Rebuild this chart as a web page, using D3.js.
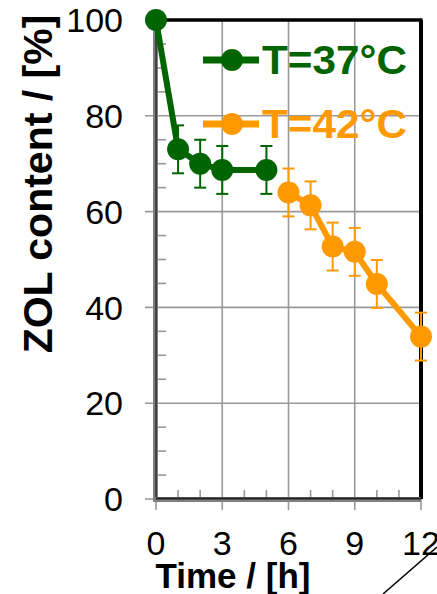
<!DOCTYPE html>
<html><head><meta charset="utf-8">
<script src="https://cdn.jsdelivr.net/npm/d3@7"></script>
<style>body{margin:0;background:#fff}svg{display:block}</style>
</head><body>
<svg id="c" width="437" height="594"></svg>
<script>
// Data
const t37 = [0, 1, 2, 3, 5];
const v37 = [100, 73, 70, 68.7, 68.7];
const e37 = [0, 5, 5, 5, 5];
const t42 = [6, 7, 8, 9, 10, 12];
const v42 = [64, 61.3, 52.7, 51.6, 44.9, 33.9];
const e42 = [5, 5, 5, 5, 5, 5];
const xTicks = [0, 3, 6, 9, 12];
const yTicks = [0, 20, 40, 60, 80, 100];
const seriesNames = ["T=37°C", "T=42°C"];

const green = "#006400", orange = "#ff9900", grid = "#999999";
const svg = d3.select("#c");
const x = d3.scaleLinear().domain([0, 12]).range([156, 421]);
const y = d3.scaleLinear().domain([0, 100]).range([499, 20]);

// grid lines (with outward major ticks)
svg.append("g").selectAll("line").data(yTicks.filter(d => d > 0 && d < 100)).join("line")
  .attr("x1", 145).attr("x2", x(12)).attr("y1", d => y(d)).attr("y2", d => y(d))
  .attr("stroke", grid).attr("stroke-width", 1.6);
svg.append("g").selectAll("line").data(xTicks.filter(d => d > 0 && d < 12)).join("line")
  .attr("x1", d => x(d)).attr("x2", d => x(d)).attr("y1", y(100)).attr("y2", 510)
  .attr("stroke", grid).attr("stroke-width", 1.6);
// major ticks at ends
svg.append("line").attr("x1", 145).attr("x2", 156).attr("y1", y(0)).attr("y2", y(0)).attr("stroke", grid).attr("stroke-width", 1.6);
svg.append("line").attr("x1", x(0)).attr("x2", x(0)).attr("y1", 499).attr("y2", 510).attr("stroke", grid).attr("stroke-width", 1.6);
svg.append("line").attr("x1", x(12)).attr("x2", x(12)).attr("y1", 499).attr("y2", 510).attr("stroke", grid).attr("stroke-width", 1.6);

// minor ticks
const yMinor = d3.range(5, 100, 5).filter(d => d % 20 !== 0);
svg.append("g").selectAll("line").data(yMinor).join("line")
  .attr("x1", 156).attr("x2", 166).attr("y1", d => y(d)).attr("y2", d => y(d))
  .attr("stroke", grid).attr("stroke-width", 1.6);
const xMinor = d3.range(1, 12, 1).filter(d => d % 3 !== 0);
svg.append("g").selectAll("line").data(xMinor).join("line")
  .attr("x1", d => x(d)).attr("x2", d => x(d)).attr("y1", 499).attr("y2", 490)
  .attr("stroke", grid).attr("stroke-width", 1.6);

// frame: top and right black
svg.append("line").attr("x1", x(0)).attr("x2", x(12) + 1.5).attr("y1", y(100)).attr("y2", y(100)).attr("stroke", "#000").attr("stroke-width", 3.5);
svg.append("line").attr("x1", x(12)).attr("x2", x(12)).attr("y1", y(100)).attr("y2", y(0)).attr("stroke", "#000").attr("stroke-width", 4);
// left axis & bottom axis (gray with dark center)
svg.append("line").attr("x1", 155.5).attr("x2", 155.5).attr("y1", y(100)).attr("y2", 501).attr("stroke", "#808080").attr("stroke-width", 5);
svg.append("line").attr("x1", 156).attr("x2", 156).attr("y1", y(100)).attr("y2", 499).attr("stroke", "#333").attr("stroke-width", 1.6);
svg.append("line").attr("x1", 153).attr("x2", x(12)).attr("y1", 499.5).attr("y2", 499.5).attr("stroke", "#808080").attr("stroke-width", 5);
svg.append("line").attr("x1", 156).attr("x2", x(12)).attr("y1", 498.5).attr("y2", 498.5).attr("stroke", "#222").attr("stroke-width", 2);

// tick labels
svg.append("g").selectAll("text").data(yTicks).join("text")
  .attr("x", 123).attr("y", d => y(d)).attr("dy", "0.36em").attr("text-anchor", "end")
  .attr("font-family", "Liberation Sans, Arial, sans-serif").attr("font-size", 34).text(d => d);
svg.append("g").selectAll("text").data(xTicks).join("text")
  .attr("x", d => x(d)).attr("y", 555).attr("text-anchor", "middle")
  .attr("font-family", "Liberation Sans, Arial, sans-serif").attr("font-size", 34).text(d => d);

// axis titles
svg.append("text").attr("x", 233).attr("y", 588).attr("text-anchor", "middle")
  .attr("font-family", "Liberation Sans, Arial, sans-serif").attr("font-weight", "bold").attr("font-size", 35)
  .text("Time / [h]");
svg.append("text").attr("transform", "translate(52,184) rotate(-90)").attr("text-anchor", "middle")
  .attr("font-family", "Liberation Sans, Arial, sans-serif").attr("font-weight", "bold").attr("font-size", 41)
  .text("ZOL content / [%]");

// series
function drawSeries(ts, vs, es, color) {
  const pts = ts.map((t, i) => ({t, v: vs[i], e: es[i]}));
  svg.append("path").datum(pts)
    .attr("d", d3.line().x(d => x(d.t)).y(d => y(d.v)))
    .attr("fill", "none").attr("stroke", color).attr("stroke-width", 6).attr("stroke-linejoin", "round");
  const eb = svg.append("g").selectAll("g").data(pts.filter(d => d.e > 0)).join("g")
    .attr("stroke", color).attr("stroke-width", 2);
  eb.append("line").attr("x1", d => x(d.t)).attr("x2", d => x(d.t)).attr("y1", d => y(d.v + d.e)).attr("y2", d => y(d.v - d.e));
  eb.append("line").attr("x1", d => x(d.t) - 6).attr("x2", d => x(d.t) + 6).attr("y1", d => y(d.v + d.e)).attr("y2", d => y(d.v + d.e));
  eb.append("line").attr("x1", d => x(d.t) - 6).attr("x2", d => x(d.t) + 6).attr("y1", d => y(d.v - d.e)).attr("y2", d => y(d.v - d.e));
  svg.append("g").selectAll("circle").data(pts).join("circle")
    .attr("cx", d => x(d.t)).attr("cy", d => y(d.v)).attr("r", 11).attr("fill", color);
}
drawSeries(t37, v37, e37, green);
drawSeries(t42, v42, e42, orange);

// legend
const legend = [{name: seriesNames[0], color: green, y: 60}, {name: seriesNames[1], color: orange, y: 124}];
const lg = svg.append("g").selectAll("g").data(legend).join("g");
lg.append("line").attr("x1", 203).attr("x2", 259).attr("y1", d => d.y).attr("y2", d => d.y)
  .attr("stroke", d => d.color).attr("stroke-width", 7);
lg.append("circle").attr("cx", 232).attr("cy", d => d.y).attr("r", 11).attr("fill", d => d.color);
lg.append("text").attr("x", 262).attr("y", d => d.y + 14).attr("fill", d => d.color)
  .attr("font-family", "Liberation Sans, Arial, sans-serif").attr("font-weight", "bold").attr("font-size", 40)
  .attr("textLength", 145).attr("lengthAdjust", "spacingAndGlyphs")
  .text(d => d.name);

// decorative diagonal stroke at bottom right
svg.append("line").attr("x1", 383).attr("y1", 594).attr("x2", 437).attr("y2", 547).attr("stroke", "#000").attr("stroke-width", 1.5);
</script>
</body></html>
